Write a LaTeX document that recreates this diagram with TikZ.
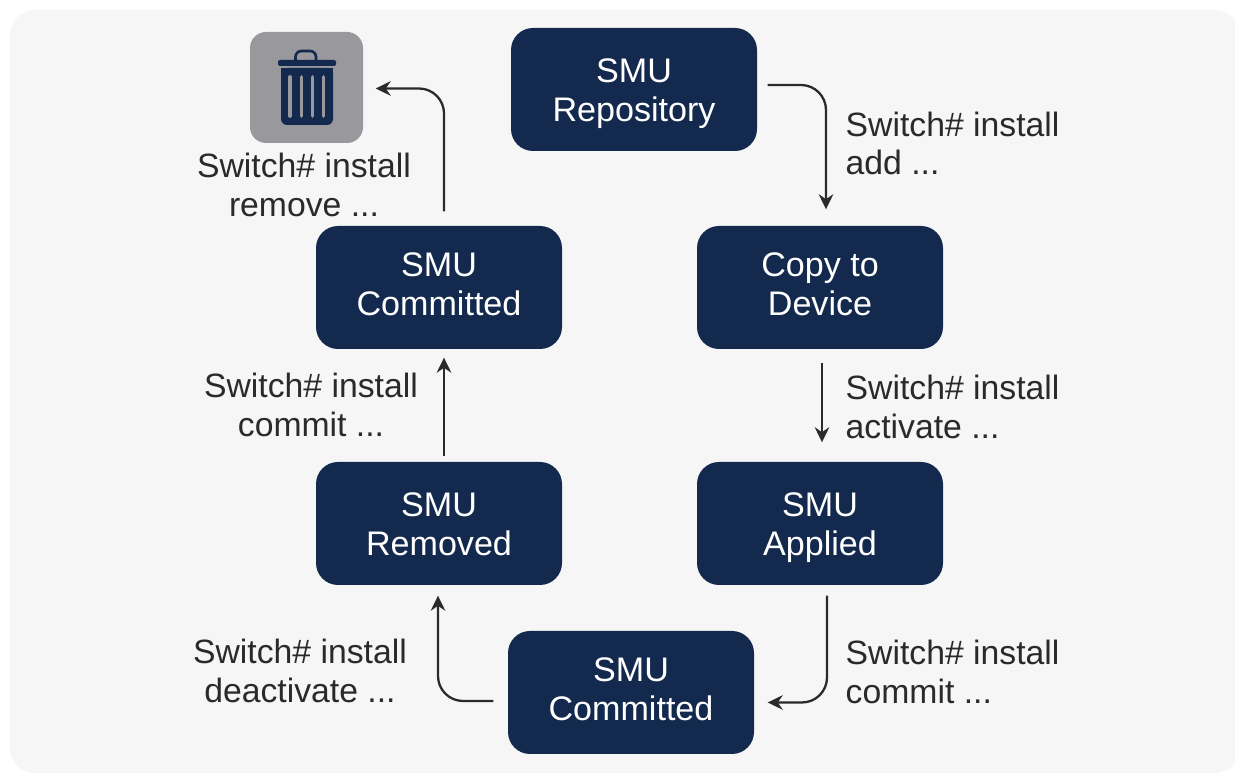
\documentclass[tikz,border=0pt]{standalone}
\usepackage{fontspec}
\setmainfont{Liberation Sans}
\usetikzlibrary{%
  arrows,%
  arrows.meta,%
  positioning,%
  calc%
}
\definecolor{navy}{HTML}{132A4E}
\definecolor{panel}{HTML}{F6F6F6}
\definecolor{binback}{HTML}{98989D}
\definecolor{ink}{HTML}{2A2A2A}

\begin{document}
\begin{tikzpicture}[
  font=\fontsize{9.6}{11}\selectfont,
  >={Stealth[length=1.5mm,width=1.45mm]},
  state/.style={rectangle, font=\fontsize{9.7}{11}\selectfont, minimum height=12.3mm, minimum width=24.6mm, inner sep=0pt, text height=6.34mm, text depth=0mm, rounded corners=2.2mm, fill=navy, text=white, align=center},
  statehigh/.style={state, text height=5.54mm},
  cmd/.style={inner sep=0pt, text=ink, align=center},
  cmdleft/.style={inner sep=0pt, text=ink, align=left},
  flow/.style={->, draw=ink, line width=0.65pt, rounded corners=2.5mm}
]

\useasboundingbox (0,0) rectangle (12.35,7.74);
\fill[white] (0,0) rectangle (12.35,7.74);
\fill[panel, rounded corners=2.5mm] (0.10,0.01) rectangle (12.40,7.64);

\node[state] (repo) at (6.34,6.845) {SMU\\Repository};
\node[statehigh] (copy) at (8.20,4.865) {Copy to\\Device};
\node[state] (applied) at (8.20,2.505) {SMU\\Applied};
\node[statehigh] (bottom) at (6.31,0.815) {SMU\\Committed};
\node[state] (removed) at (4.39,2.505) {SMU\\Removed};
\node[statehigh] (top) at (4.39,4.865) {SMU\\Committed};
\node[rectangle, minimum height=11.1mm, minimum width=11.3mm, inner sep=0pt, rounded corners=1.6mm, fill=binback] (bin) at (3.065,6.865) {};

% trash can
\fill[navy, rounded corners=0.6mm] (2.81,7.06) -- (2.81,6.49) -- (3.33,6.49) -- (3.33,7.06) -- cycle;
\fill[navy] (2.81,7.06) rectangle (3.33,6.90);
\fill[navy, rounded corners=0.2mm] (2.78,7.14) rectangle (3.36,7.08);
\draw[navy, line width=0.75pt, rounded corners=0.6mm] (2.955,7.13) -- (2.955,7.23) -- (3.16,7.23) -- (3.16,7.13);
\foreach \x in {2.90,3.015,3.125,3.235} {
  \draw[binback, line width=1.05pt, line cap=round] (\x,6.97) -- (\x,6.58);
}

\node[cmd] (lremove) at (3.04,5.89) {Switch\# install\\remove ...};
\node[cmd] (lcommit) at (3.11,3.69) {Switch\# install\\commit ...};
\node[cmd] (ldeact) at (3.00,1.03) {Switch\# install\\deactivate ...};
\node[cmdleft, anchor=west] (ladd) at (8.45,6.305) {Switch\# install\\add ...};
\node[cmdleft, anchor=west] (lact) at (8.45,3.67) {Switch\# install\\activate ...};
\node[cmdleft, anchor=west] (lcom) at (8.45,1.02) {Switch\# install\\commit ...};

\draw[flow, shorten <=1mm, shorten >=1.6mm] ([yshift=0.45mm]repo.east) -| ([xshift=0.6mm]copy.north);
\draw[flow, shorten <=1.3mm, shorten >=1.9mm] ([xshift=0.2mm]copy.south) -- ([xshift=0.2mm]applied.north);
\draw[flow, shorten <=1mm, shorten >=1.3mm] ([xshift=0.7mm]applied.south) |- ([yshift=-1mm]bottom.east);
\draw[flow, shorten <=1.4mm, shorten >=1mm] ([yshift=-0.85mm]bottom.west) -| ([xshift=-0.1mm]removed.south);
\draw[flow, shorten <=0.5mm, shorten >=0.8mm] ([xshift=0.5mm]removed.north) -- ([xshift=0.5mm]top.south);
\draw[flow, shorten <=1.4mm, shorten >=1.2mm] ([xshift=0.5mm]top.north) |- ([yshift=-0.1mm]bin.east);

\end{tikzpicture}
\end{document}
